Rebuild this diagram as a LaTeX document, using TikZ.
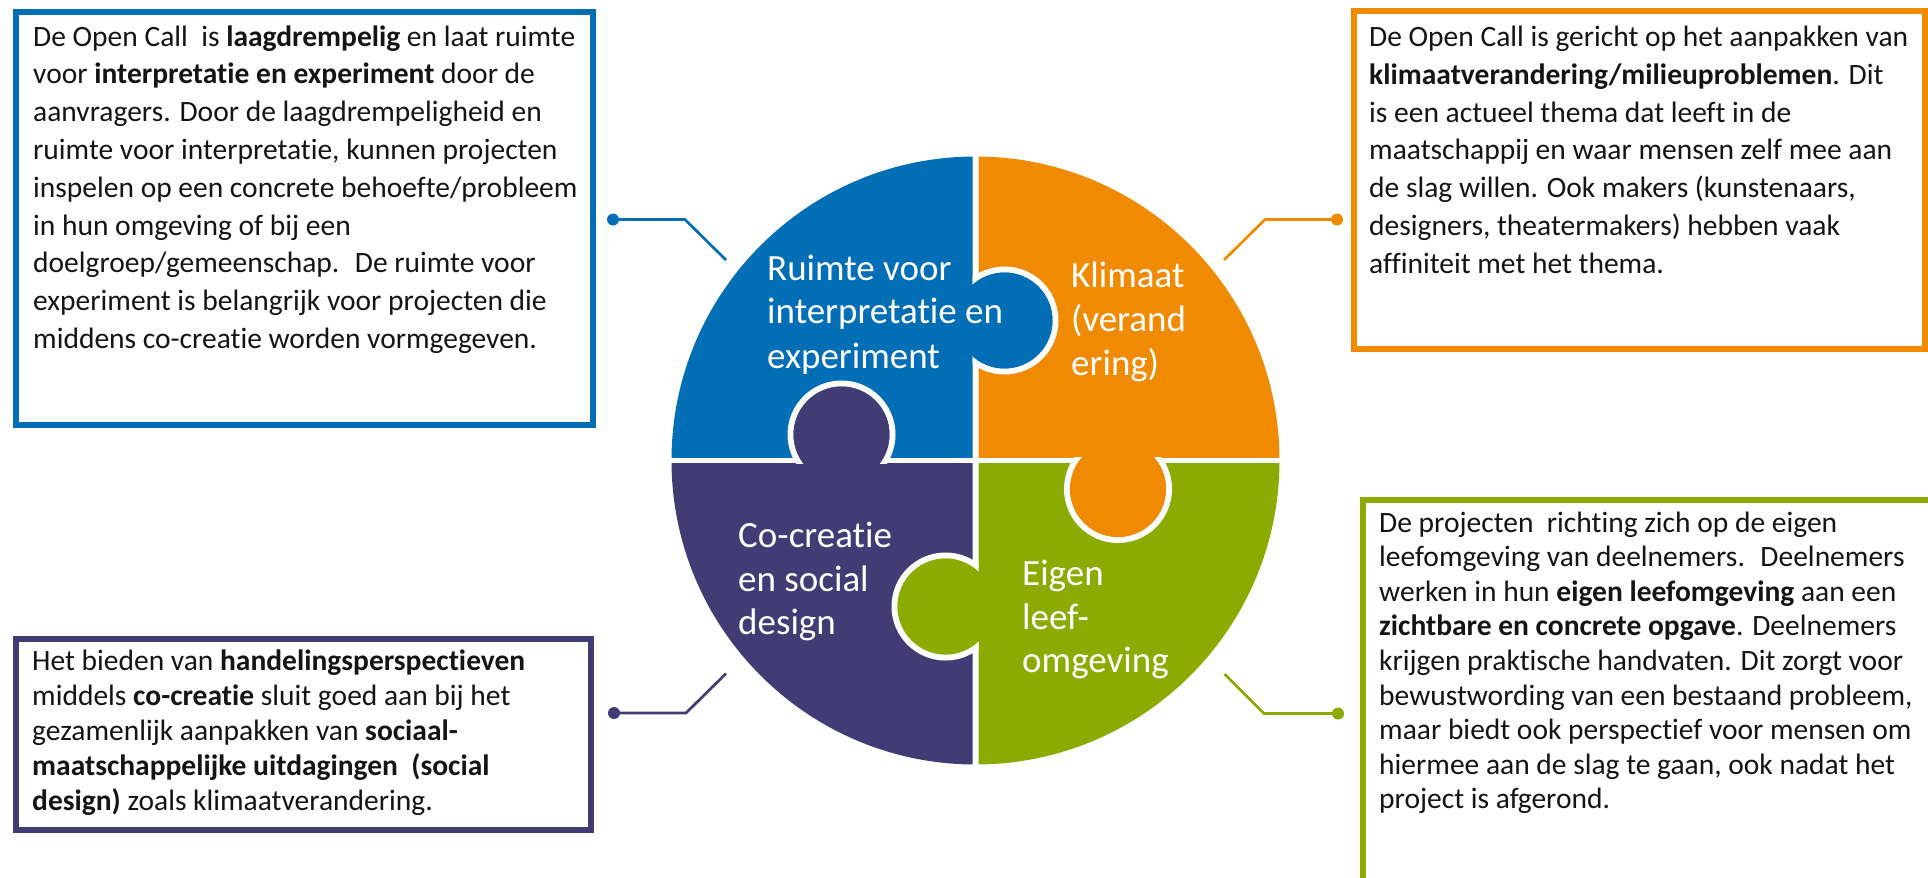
\documentclass[tikz,border=0pt]{standalone}
\usepackage{fontspec}
\setmainfont{Carlito}[RawFeature={-liga;-clig;-dlig;-calt}]
\definecolor{pblue}{RGB}{2,110,182}
\definecolor{porange}{RGB}{240,138,0}
\definecolor{ppurple}{RGB}{65,61,116}
\definecolor{pgreen}{RGB}{139,171,0}
\definecolor{ptext}{RGB}{20,20,20}
\begin{document}
\begin{tikzpicture}[x=1pt,y=-1pt,
  boxtext/.style={anchor=base west, inner sep=0pt, text=ptext, font=\fontsize{29.5}{36}\selectfont},
  piecelabel/.style={anchor=base west, inner sep=0pt, text=white, font=\fontsize{37}{44}\selectfont},
  frame/.style={line width=6pt},
  conn/.style={line width=2.7pt},
  dotnode/.style={circle, inner sep=0pt, minimum size=12pt},
  ring/.style={draw=white, line width=6pt},
]
\useasboundingbox (0,0) rectangle (1928,878);
\fill[white] (0,0) rectangle (1928,878);

% ---- puzzle pieces
\begin{scope}
\clip (0,0) rectangle (972.5,457.5);
\fill[pblue] (975.5,460.5) circle[radius=304pt];
\end{scope}
\begin{scope}
\clip (978.5,0) rectangle (1928,457.5);
\fill[porange] (975.5,460.5) circle[radius=304pt];
\end{scope}
\begin{scope}
\clip (0,463.5) rectangle (972.5,878);
\fill[ppurple] (975.5,460.5) circle[radius=304pt];
\end{scope}
\begin{scope}
\clip (978.5,463.5) rectangle (1928,878);
\fill[pgreen] (975.5,460.5) circle[radius=304pt];
\end{scope}

% ---- knobs
\begin{scope}
\clip (972.5,0) rectangle (1928,878);
\filldraw[fill=pblue, ring] (1004.5,320.5) circle[radius=51pt];
\end{scope}
\fill[pblue] (1004.5,320.5) circle[radius=48pt];

\begin{scope}
\clip (0,0) rectangle (1928,463.5);
\filldraw[fill=ppurple, ring] (841.5,434.5) circle[radius=51pt];
\end{scope}
\fill[ppurple] (841.5,434.5) circle[radius=48pt];

\begin{scope}
\clip (0,457.5) rectangle (1928,878);
\filldraw[fill=porange, ring] (1118,489) circle[radius=51pt];
\end{scope}
\fill[porange] (1118,489) circle[radius=48pt];

\begin{scope}
\clip (0,0) rectangle (978.5,878);
\filldraw[fill=pgreen, ring] (945.5,606.5) circle[radius=51pt];
\end{scope}
\fill[pgreen] (945.5,606.5) circle[radius=48pt];

% ---- piece labels
\node[piecelabel] (lb1) at (767,280) {Ruimte voor};
\node[piecelabel] (lb2) at (767,323.5) {interpretatie en};
\node[piecelabel] (lb3) at (767,368) {experiment};
\node[piecelabel] (lo1) at (1071,287) {Klimaat};
\node[piecelabel] (lo2) at (1071,331) {(verand};
\node[piecelabel] (lo3) at (1071,375) {ering)};
\node[piecelabel] (lp1) at (738,547) {Co-creatie};
\node[piecelabel] (lp2) at (738,591) {en social};
\node[piecelabel] (lp3) at (738,634.5) {design};
\node[piecelabel] (lg1) at (1022,585) {Eigen};
\node[piecelabel] (lg2) at (1022,629) {leef-};
\node[piecelabel] (lg3) at (1022,672) {omgeving};

% ---- connectors
\node[dotnode, fill=pblue] (d1) at (613,219.5) {};
\coordinate (b1) at (685,219.5);
\coordinate (e1) at (726,260);
\draw[conn, pblue] (d1.center) -- (b1) -- (e1);

\node[dotnode, fill=porange] (d2) at (1337,219.5) {};
\coordinate (b2) at (1265,219.5);
\coordinate (e2) at (1224,260);
\draw[conn, porange] (d2.center) -- (b2) -- (e2);

\node[dotnode, fill=ppurple] (d3) at (614,713) {};
\coordinate (b3) at (686,713);
\coordinate (e3) at (726,673.5);
\draw[conn, ppurple] (d3.center) -- (b3) -- (e3);

\node[dotnode, fill=pgreen] (d4) at (1338,713.5) {};
\coordinate (b4) at (1264,713.5);
\coordinate (e4) at (1224.5,674);
\draw[conn, pgreen] (d4.center) -- (b4) -- (e4);

% ---- boxes
\draw[frame, pblue] (16,12) rectangle (593,425);
\draw[frame, porange] (1354,11) rectangle (1925,349);
\draw[frame, ppurple] (16,639) rectangle (591,830);
\begin{scope}
\clip (0,0) rectangle (1928,878);
\draw[frame, pgreen] (1363,500) rectangle (1960,920);
\end{scope}

% ---- box texts
\foreach \tline [count=\i from 0] in {
  {De Open Call~ is \textbf{laagdrempelig} en laat ruimte},
  {voor \textbf{interpretatie en experiment} door de},
  {aanvragers. Door de laagdrempeligheid en},
  {ruimte voor interpretatie, kunnen projecten},
  {inspelen op een concrete behoefte/probleem},
  {in hun omgeving of bij een},
  {doelgroep/gemeenschap.~ De ruimte voor},
  {experiment is belangrijk voor projecten die},
  {middens co-creatie worden vormgegeven.}}
  \node[boxtext] (tl\i) at (33,{46+37.8*\i}) {\tline};

\foreach \tline [count=\i from 0] in {
  {De Open Call is gericht op het aanpakken van},
  {\textbf{klimaatverandering/milieuproblemen}. Dit},
  {is een actueel thema dat leeft in de},
  {maatschappij en waar mensen zelf mee aan},
  {de slag willen. Ook makers (kunstenaars,},
  {designers, theatermakers) hebben vaak},
  {affiniteit met het thema.}}
  \node[boxtext] (tr\i) at (1369,{46.5+37.8*\i}) {\tline};

\foreach \tline [count=\i from 0] in {
  {Het bieden van \textbf{handelingsperspectieven}},
  {middels \textbf{co-creatie} sluit goed aan bij het},
  {gezamenlijk aanpakken van \textbf{sociaal-}},
  {\textbf{maatschappelijke uitdagingen~ (social}},
  {\textbf{design)} zoals klimaatverandering.}}
  \node[boxtext] (bl\i) at (32,{670+35*\i}) {\tline};

\foreach \tline [count=\i from 0] in {
  {De projecten~ richting zich op de eigen},
  {leefomgeving van deelnemers.~ Deelnemers},
  {werken in hun \textbf{eigen leefomgeving} aan een},
  {\textbf{zichtbare en concrete opgave}. Deelnemers},
  {krijgen praktische handvaten. Dit zorgt voor},
  {bewustwording van een bestaand probleem,},
  {maar biedt ook perspectief voor mensen om},
  {hiermee aan de slag te gaan, ook nadat het},
  {project is afgerond.}}
  \node[boxtext] (br\i) at (1379,{532+34.6*\i}) {\tline};
\end{tikzpicture}
\end{document}
